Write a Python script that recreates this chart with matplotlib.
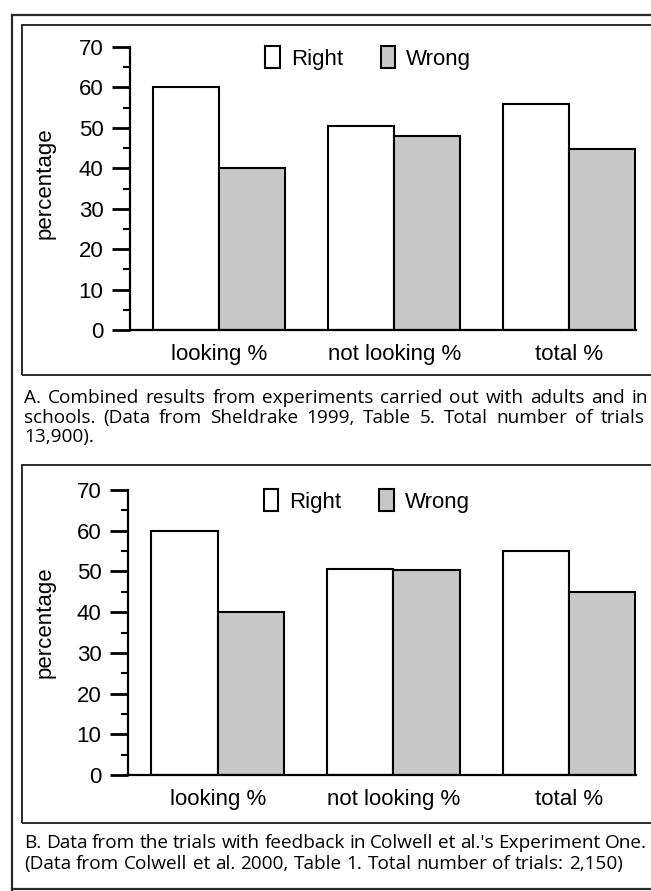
import matplotlib
matplotlib.use("Agg")
import matplotlib.pyplot as plt
from matplotlib.lines import Line2D
from matplotlib.patches import Rectangle
import numpy as np

# values
categories = ["looking %", "not looking %", "total %"]
right_a = [60, 50.5, 55.8]
wrong_a = [40, 48, 44.8]
right_b = [60, 50.5, 55]
wrong_b = [40, 50.4, 45]
yticks = [0, 10, 20, 30, 40, 50, 60, 70]
series = ["Right", "Wrong"]

caption_a = [
    "A. Combined results from experiments carried out with adults and in",
    "schools. (Data from Sheldrake 1999, Table 5. Total number of trials",
    "13,900).",
]
caption_b = [
    "B. Data from the trials with feedback in Colwell et al.'s Experiment One.",
    "(Data from Colwell et al. 2000, Table 1. Total number of trials: 2,150)",
]

W, H = 651, 891
plt.rcParams['font.family'] = ['Liberation Sans', 'DejaVu Sans']
fig = plt.figure(figsize=(W / 100, H / 100), dpi=100)
renderer = fig.canvas.get_renderer()
cap_font = ['Open Sans', 'DejaVu Sans']
line_col = '#2a2a2a'


def box(left, top, right, bottom):
    """axes rect in figure fractions from pixel edges"""
    return [left / W, 1 - bottom / H, (right - left) / W, (bottom - top) / H]


def draw_panel(rect, right, wrong, label_y):
	ax = fig.add_axes(rect)
	x = np.arange(len(categories))
	w = 0.377
	ax.bar(x - w / 2, right, w, color='white', edgecolor='black', lw=1.5, label=series[0])
	ax.bar(x + w / 2, wrong, w, color='#c8c8c8', edgecolor='black', lw=1.5, label=series[1])
	ax.set_xlim(-0.51, 2.38)
	ax.set_ylim(0, 70)
	ax.set_yticks(yticks)
	ax.set_yticks(np.arange(5, 70, 10), minor=True)
	ax.set_xticks(x)
	ax.set_xticklabels(categories)
	for s in ['top', 'right']:
		ax.spines[s].set_visible(False)
	for s in ['left', 'bottom']:
		ax.spines[s].set_linewidth(1.6)
	ax.tick_params(axis='y', which='major', length=13, width=2, labelsize=16, pad=6)
	ax.tick_params(axis='y', which='minor', length=5, width=1.5)
	ax.tick_params(axis='x', length=0, labelsize=16, pad=10)
	ax.legend(loc='center left', bbox_to_anchor=(0.267, 0.962), ncol=2, frameon=False,
			  fontsize=16, handlelength=0.65, handleheight=1.15, handletextpad=0.5,
			  columnspacing=1.7, borderaxespad=0, borderpad=0)
	fig.text(45 / W, 1 - label_y / H, 'percentage', rotation=90, ha='center',
			 va='center', fontsize=16)
	return ax


def place_line(text, y, x0, x1, size, justify=True):
	"""writes one caption line word by word, spread to x1 when justified"""
	words = text.split()
	objs = [fig.text(0, 1 - y / H, wd, fontsize=size, family=cap_font, va='center', ha='left')
			for wd in words]
	widths = [o.get_window_extent(renderer).width for o in objs]
	space = 0.26 * size * 100 / 72
	gap = space
	if justify and len(words) > 1:
		gap = max((x1 - x0 - sum(widths)) / (len(words) - 1), 0.5 * space)
	xx = x0
	for o, wd in zip(objs, widths):
		o.set_x(xx / W)
		xx += wd + gap


draw_panel(box(130, 47, 636, 330), right_a, wrong_a, 183)
draw_panel(box(128, 490, 636, 775), right_b, wrong_b, 622)

# frames around the figure and each panel
fig.add_artist(Line2D([12 / W, 12 / W], [1 - 15 / H, 0], color=line_col, lw=1.6))
fig.add_artist(Line2D([12 / W, 1], [1 - 15 / H, 1 - 15 / H], color=line_col, lw=1.6))
fig.add_artist(Line2D([12 / W, 1], [1 - 889 / H, 1 - 889 / H], color=line_col, lw=1.6))
for top, bottom in [(25, 375), (465, 823)]:
	fig.add_artist(Rectangle((22 / W, 1 - bottom / H), (660 - 22) / W, (bottom - top) / H,
							 fill=False, edgecolor=line_col, lw=1.4))

# caption size so that the last line of B runs to its end in the picture
probe = fig.text(0, 0, caption_b[1], fontsize=10, family=cap_font)
cap_size = 10 * (625 - 24) / probe.get_window_extent(renderer).width
probe.remove()

place_line(caption_a[0], 398, 24, 648, cap_size)
place_line(caption_a[1], 418, 24, 645, cap_size)
place_line(caption_a[2], 437, 24, 0, cap_size, justify=False)
place_line(caption_b[0], 843, 24, 647, cap_size)
place_line(caption_b[1], 864, 24, 0, cap_size, justify=False)

fig.savefig("out.png", dpi=100)
